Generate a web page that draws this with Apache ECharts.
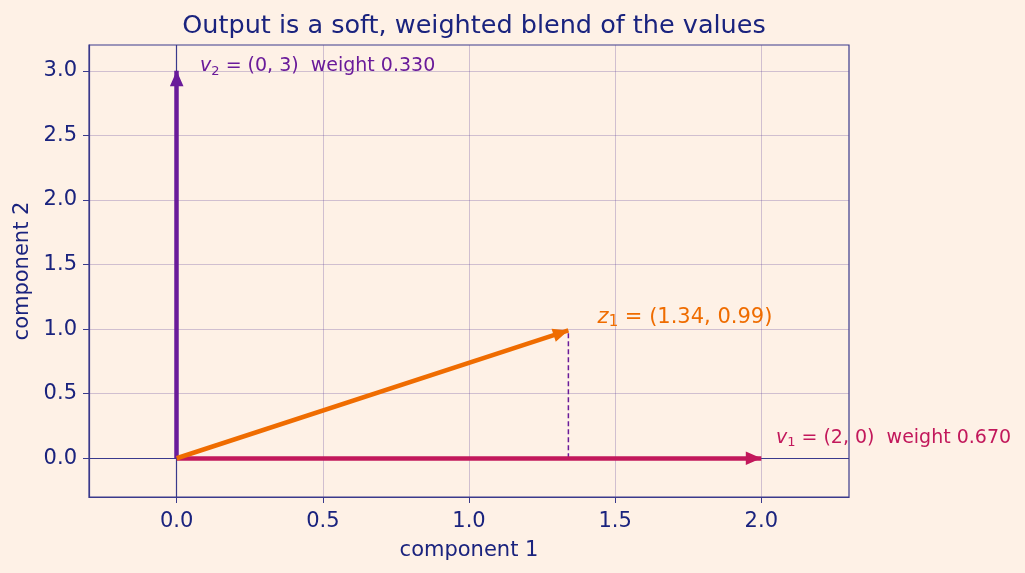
<!DOCTYPE html>
<html>
<head>
<meta charset="utf-8">
<script src="https://cdn.jsdelivr.net/npm/echarts@6/dist/echarts.min.js"></script>
<style>
  html, body { margin: 0; padding: 0; background: #fef1e6; }
  #main { width: 1025px; height: 573px; }
</style>
</head>
<body>
<div id="main"></div>
<script>
const chartDom = document.getElementById('main');
const myChart = echarts.init(chartDom);

// values
const v1 = [2, 0];
const v2 = [0, 3];
const z1 = [1.34, 0.99];
const weights = [0.670, 0.330];
const xTicks = [0, 0.5, 1, 1.5, 2];
const yTicks = [0, 0.5, 1, 1.5, 2, 2.5, 3];
// where the text annotations sit (data coords)
const v1LabelAt = [2.05, 0.16];
const v2LabelAt = [0.08, 3.04];
const z1LabelAt = [1.44, 1.09];

const navy = '#1a237e';
const spine = '#3a3a8c';
const gridCol = 'rgba(90,60,150,0.28)';
const font = 'DejaVu Sans';

// square 40x40 box, triangle head with its tip on the end point
const head = 'path://M0,20L0.001,20M40,20L39.999,20M20,0L20,0.001M20,40L20,39.999M20,20L26.8,35.5L13.2,35.5Z';

const subRich = function (color, size) {
    return {
        i: { fontFamily: font, fontStyle: 'italic', fontSize: size, color: color, lineHeight: 24 },
        s: { fontFamily: font, fontSize: Math.round(size * 0.7), color: color, lineHeight: 12, verticalAlign: 'bottom' },
        n: { fontFamily: font, fontSize: size, color: color, lineHeight: 24 }
    };
};

function arrow(from, to, color) {
    return {
        type: 'lines',
        coordinateSystem: 'cartesian2d',
        symbol: ['none', head],
        symbolSize: 40,
        lineStyle: { color: color, width: 4.5, opacity: 1, curveness: 0 },
        z: 5,
        silent: true,
        data: [{ coords: [from, to] }]
    };
}

function note(at, text, color, size) {
    return {
        type: 'scatter',
        symbolSize: 0,
        silent: true,
        z: 6,
        itemStyle: { opacity: 1 },
        data: [at],
        label: {
            show: true,
            opacity: 1,
            position: [0, 0],
            align: 'left',
            verticalAlign: 'middle',
            formatter: text,
            rich: subRich(color, size)
        }
    };
}

const axisCommon = {
    type: 'value',
    nameLocation: 'middle',
    nameTextStyle: { fontFamily: font, fontSize: 21, color: navy },
    axisLine: { show: true, onZero: false, lineStyle: { color: spine, width: 1.2 } },
    splitLine: { show: false }
};

const option = {
    backgroundColor: '#fef1e6',
    animation: false,
    title: {
        text: 'Output is a soft, weighted blend of the values',
        left: 469,
        top: 8,
        textAlign: 'center',
        textStyle: { fontFamily: font, fontSize: 25.5, fontWeight: 'normal', color: navy }
    },
    grid: {
        left: 89, right: 176, top: 45, bottom: 76,
        show: true, borderColor: spine, borderWidth: 1.2, backgroundColor: 'transparent'
    },
    xAxis: Object.assign({}, axisCommon, {
        min: -0.3, max: 2.3,
        name: 'component 1', nameGap: 43,
        axisTick: { show: true, length: 6, customValues: xTicks, lineStyle: { color: spine } },
        axisLabel: {
            fontFamily: font, fontSize: 21, color: navy, margin: 14, customValues: xTicks,
            formatter: function (v) { return v.toFixed(1); }
        }
    }),
    yAxis: Object.assign({}, axisCommon, {
        min: -0.3, max: 3.2,
        name: 'component 2', nameGap: 56,
        axisTick: { show: true, length: 6, customValues: yTicks, lineStyle: { color: spine } },
        axisLabel: {
            fontFamily: font, fontSize: 21, color: navy, margin: 12, customValues: yTicks,
            formatter: function (v) { return v.toFixed(1); }
        }
    }),
    series: [
        {
            // grid lines at the tick values
            type: 'line',
            data: [],
            silent: true,
            z: 1,
            markLine: {
                silent: true,
                symbol: 'none',
                label: { show: false },
                lineStyle: { color: gridCol, width: 1, type: 'solid' },
                data: xTicks.filter(function (t) { return t !== 0; }).map(function (t) { return { xAxis: t }; })
                    .concat(yTicks.filter(function (t) { return t !== 0; }).map(function (t) { return { yAxis: t }; }))
            }
        },
        {
            // zero lines
            type: 'line',
            data: [],
            silent: true,
            z: 2,
            markLine: {
                silent: true,
                symbol: 'none',
                label: { show: false },
                lineStyle: { color: spine, width: 1.2, type: 'solid' },
                data: [{ xAxis: 0 }, { yAxis: 0 }]
            }
        },
        {
            type: 'line',
            data: [[z1[0], 0], z1],
            symbol: 'none',
            silent: true,
            z: 4,
            lineStyle: { color: '#6a1b9a', width: 1.5, type: [5, 3] }
        },
        arrow([0, 0], v1, '#c2185b'),
        arrow([0, 0], v2, '#6a1b9a'),
        arrow([0, 0], z1, '#ef6c00'),
        note(v2LabelAt, '{i|v}{s|2}{n| = (0, 3)  weight ' + weights[1].toFixed(3) + '}', '#6a1b9a', 19),
        note(z1LabelAt, '{i|z}{s|1}{n| = (' + z1[0].toFixed(2) + ', ' + z1[1].toFixed(2) + ')}', '#ef6c00', 21),
        note(v1LabelAt, '{i|v}{s|1}{n| = (2, 0)  weight ' + weights[0].toFixed(3) + '}', '#c2185b', 19)
    ]
};

myChart.setOption(option);
</script>
</body>
</html>
